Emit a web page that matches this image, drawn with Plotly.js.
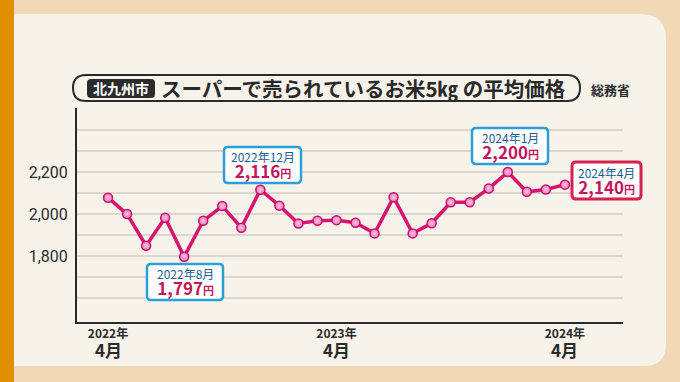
<!DOCTYPE html>
<html><head><meta charset="utf-8">
<script src="https://cdn.plot.ly/plotly-3.0.1.min.js"></script>
<style>html,body{margin:0;padding:0;background:#F1D9B7;}</style>
</head><body><div id="chart" style="width:680px;height:382px;"></div>
<script>
// ---- data ----
const months = ["2022年4月","2022年5月","2022年6月","2022年7月","2022年8月","2022年9月","2022年10月","2022年11月","2022年12月",
  "2023年1月","2023年2月","2023年3月","2023年4月","2023年5月","2023年6月","2023年7月","2023年8月","2023年9月","2023年10月","2023年11月","2023年12月",
  "2024年1月","2024年2月","2024年3月","2024年4月"];
const prices = [2078,2000,1849,1982,1797,1968,2038,1935,2116,2040,1955,1968,1971,1959,1908,2080,1908,1956,2056,2056,2122,2200,2106,2117,2140];
const xTickIdx = [0,12,24];
const xTickYears = ["2022年","2023年","2024年"];
const xTickMonths = ["4月","4月","4月"];
const yGridVals = [1600,1700,1800,1900,2000,2100,2200,2300,2400];
const yLabelVals = [1800,2000,2200];
const highlightIdx = [4,8,21,24];
const titleBadge = "北九州市";
const titleText = "スーパーで売られているお米5㎏ の平均価格";
const sourceText = "総務省";

// ---- layout helpers ----
const W=680,H=382, L=77, R=623, T=108, B=322;
const XMIN=-1.63, XMAX=27.05;
const PX = p => (p-L)/(R-L);
const PY = p => (B-p)/(B-T);
const FONT = '"Noto Sans CJK JP", "Noto Sans", sans-serif';
function rrect(x0,y0,x1,y1,r,rTL,rTR,rBR,rBL){
  const a=[rTL,rTR,rBR,rBL].map(v=>v===undefined?r:v);
  const f=(x,y)=>PX(x)+','+PY(y);
  return 'M'+f(x0+a[0],y0)+' L'+f(x1-a[1],y0)+' Q'+f(x1,y0)+' '+f(x1,y0+a[1])+
    ' L'+f(x1,y1-a[2])+' Q'+f(x1,y1)+' '+f(x1-a[2],y1)+
    ' L'+f(x0+a[3],y1)+' Q'+f(x0,y1)+' '+f(x0,y1-a[3])+
    ' L'+f(x0,y0+a[0])+' Q'+f(x0,y0)+' '+f(x0+a[0],y0)+' Z';
}
const xs = months.map((_,i)=>i);
const yTickText = yGridVals.map(v => yLabelVals.includes(v) ? v.toLocaleString('en-US') : '');
const xTickText = xTickYears.map(t=>'<b>'+t+'</b>');

const shapes = [
  {type:'path', xref:'paper', yref:'paper', layer:'below', path: rrect(14,14,666,366,0,0,26,22,0), fillcolor:'#F7F3EB', line:{width:0}},
  {type:'rect', xref:'paper', yref:'paper', layer:'below', x0:PX(0), x1:PX(14), y0:PY(382), y1:PY(0), fillcolor:'#E08F00', line:{width:0}},
  {type:'path', xref:'paper', yref:'paper', layer:'above', path: rrect(73,75,580,101,13), fillcolor:'rgba(0,0,0,0)', line:{color:'#2a2a2a', width:2}},
  {type:'path', xref:'paper', yref:'paper', layer:'above', path: rrect(87,79,155,98,4), fillcolor:'#2b2b2b', line:{width:0}}
];

const boxes = [
  {x0:147,y0:264,x1:223,y1:300,color:'#2AA0D8'},
  {x0:224,y0:147,x1:301,y1:183,color:'#2AA0D8'},
  {x0:472,y0:128,x1:548,y1:164,color:'#2AA0D8'},
  {x0:572,y0:162,x1:641,y1:199,color:'#D6204F'}
];
const ann = (x,y,text,font,xa) => ({xref:'paper', yref:'paper', x:PX(x), y:PY(y), text:text, showarrow:false,
  xanchor:xa||'center', yanchor:'middle', font:font});
const annotations = [
  ann(121,88.5,'<b>'+titleBadge+'</b>',{family:FONT,size:14,color:'#ffffff'}),
  ann(159,88,'<b>'+titleText+'</b>',{family:FONT,size:20.5,color:'#2a2a2a'},'left'),
  ann(610,89,'<b>'+sourceText+'</b>',{family:FONT,size:13,color:'#2a2a2a'})
];
xTickIdx.forEach((xi,k)=>{
  annotations.push({xref:'x', yref:'paper', x:xi, y:PY(349), text:'<b>'+xTickMonths[k]+'</b>', showarrow:false,
    xanchor:'center', yanchor:'middle', font:{family:FONT,size:17,color:'#2a2a2a'}});
});
highlightIdx.forEach((idx,k)=>{
  const b = boxes[k];
  shapes.push({type:'path', xref:'paper', yref:'paper', layer:'above', path: rrect(b.x0,b.y0,b.x1,b.y1,4), fillcolor:'#ffffff', line:{color:b.color, width: k===3?3:2.5}});
  const cx = (b.x0+b.x1)/2;
  const txt = '<span style="color:#1C5D93">'+months[idx]+'</span><br><b><span style="font-size:17px">'+
    prices[idx].toLocaleString('en-US')+'</span><span style="font-size:11px">円</span></b>';
  const a = ann(cx, (b.y0+b.y1)/2 + 0.5, txt, {family:FONT,size:12,color:'#C4145A'});
  a.borderpad = 0;
  annotations.push(a);
});

const trace = {
  x: xs, y: prices, type:'scatter', mode:'lines+markers',
  line:{color:'#D4166E', width:3.5},
  marker:{size:9, color:'#F07DBA', line:{color:'#C9106A', width:1.5}, gradient:{type:'radial', color:'#F9C4E0'}},
  hoverinfo:'skip', cliponaxis:false
};

const layout = {
  width:W, height:H,
  margin:{l:L, r:W-R, t:T, b:H-B, pad:0},
  paper_bgcolor:'#F1D9B7', plot_bgcolor:'rgba(0,0,0,0)',
  showlegend:false,
  xaxis:{range:[XMIN, XMAX], tickvals:xTickIdx, ticktext:xTickText, showgrid:false, zeroline:false,
    showline:true, linecolor:'#2a2a2a', linewidth:2, ticks:'', ticklen:0, ticklabelstandoff:0,
    tickfont:{family:FONT, size:12, color:'#2a2a2a'}, fixedrange:true},
  yaxis:{range:[1486, 2505], tickvals:yGridVals, ticktext:yTickText, showgrid:true, gridcolor:'#DCD7CE', gridwidth:1.5,
    zeroline:false, showline:true, linecolor:'#2a2a2a', linewidth:2, ticks:'', ticklabelstandoff:4,
    tickfont:{family:'Roboto, "Noto Sans", sans-serif', size:16, color:'#2a2a2a'}, fixedrange:true},
  shapes: shapes,
  annotations: annotations
};
Plotly.newPlot('chart', [trace], layout, {displayModeBar:false, staticPlot:true});
</script></body></html>
